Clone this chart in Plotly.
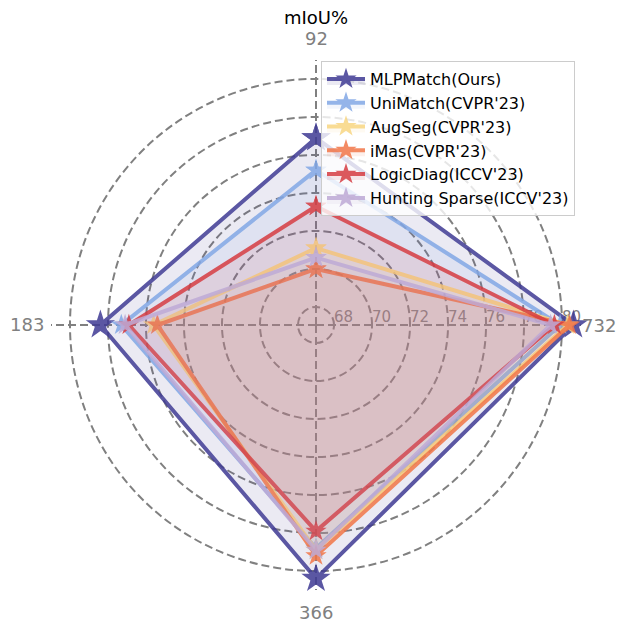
import math
import plotly.graph_objects as go

categories = ["92", "183", "366", "732"]
methods = ["MLPMatch(Ours)", "UniMatch(CVPR'23)", "AugSeg(CVPR'23)", "iMas(CVPR'23)",
           "LogicDiag(ICCV'23)", "Hunting Sparse(ICCV'23)"]
mlpmatch = [76.9, 78.4, 80.4, 80.6]
unimatch = [75.2, 77.3, 78.8, 79.9]
augseg = [71.1, 75.6, 78.9, 80.3]
imas = [70.0, 75.4, 79.2, 80.4]
logicdiag = [73.3, 76.9, 77.9, 79.6]
hunting = [70.6, 77.1, 78.9, 79.4]
radial_ticks = [68, 70, 72, 74, 76, 78, 80]

series = [mlpmatch, unimatch, augseg, imas, logicdiag, hunting]
colors = [(63, 58, 148), (130, 168, 230), (248, 214, 130), (242, 118, 72),
          (214, 60, 66), (190, 170, 214)]
msizes = [22, 16, 16, 16, 16, 16]

fig = go.Figure()
for name, vals, c, ms in zip(methods, series, colors, msizes):
    rgb = f"rgb({c[0]},{c[1]},{c[2]})"
    fig.add_trace(go.Scatterpolar(
        r=vals + vals[:1],
        theta=categories + categories[:1],
        name=name,
        mode="lines+markers",
        line=dict(color=rgb, width=4),
        marker=dict(symbol="star", size=ms, color=rgb),
        opacity=0.85,
        fill="toself",
        fillcolor=f"rgba({c[0]},{c[1]},{c[2]},0.12)",
    ))

# page body adds an 8px margin; work in target-pixel coordinates and shift
OFF = 8
W, H = 624 - 2 * OFF, 625 - OFF
cx, cy, R = 316 - OFF, 325 - OFF, 265
NB = "\u00a0" * 4

# angular category labels placed just outside the polar area
label_dist = [286.5, 289, 287, 283]
annots = [dict(
    text="mIoU%", x=cx / W, y=1 - (17.5 - OFF) / H, xref="paper", yref="paper",
    showarrow=False, font=dict(size=18, color="black"), xanchor="center", yanchor="middle",
)]
for i, (cat, d) in enumerate(zip(categories, label_dist)):
    ang = math.radians(90 + 90 * i)
    px = cx + d * math.cos(ang)
    py = cy - d * math.sin(ang)
    annots.append(dict(
        text=cat, x=px / W, y=1 - py / H, xref="paper", yref="paper",
        showarrow=False, font=dict(size=18, color="rgb(128,128,128)"),
        xanchor="center", yanchor="middle",
    ))

fig.update_layout(
    width=W, height=H,
    margin=dict(l=0, r=0, t=0, b=0),
    paper_bgcolor="white",
    font=dict(family="DejaVu Sans", size=16, color="black"),
    polar=dict(
        domain=dict(x=[(cx - R) / W, (cx + R) / W], y=[(H - cy - R) / H, (H - cy + R) / H]),
        bgcolor="rgba(0,0,0,0)",
        radialaxis=dict(
            range=[67.05, 81.0],
            tickvals=radial_ticks,
            ticktext=[NB + str(t) for t in radial_ticks],
            angle=0,
            side="counterclockwise",
            tickangle=0,
            showline=False,
            ticks="",
            layer="below traces",
            gridcolor="rgb(128,128,128)",
            griddash="8px,4px",
            gridwidth=2,
            tickfont=dict(size=15, color="rgb(128,128,128)"),
        ),
        angularaxis=dict(
            rotation=90,
            direction="counterclockwise",
            showline=False,
            ticks="",
            showticklabels=False,
            layer="below traces",
            gridcolor="rgb(128,128,128)",
            griddash="8px,4px",
            gridwidth=2,
        ),
    ),
    legend=dict(
        x=(321 - OFF) / W, y=1 - (61 - OFF) / H, xanchor="left", yanchor="top",
        bgcolor="rgba(255,255,255,0.8)",
        bordercolor="rgb(204,204,204)", borderwidth=1,
        font=dict(size=16, color="black"),
        itemwidth=38,
        tracegroupgap=0,
    ),
    annotations=annots,
)
fig.write_html("out.html")
